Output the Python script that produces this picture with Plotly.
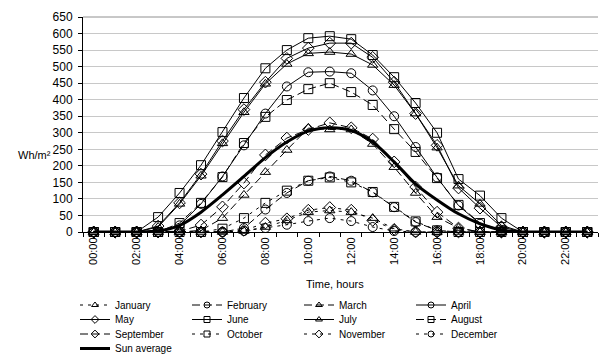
import plotly.graph_objects as go

hours = list(range(24))
tick_hours = list(range(0, 24, 2))
tick_labels = [f"{h:02d}:00" for h in tick_hours]

january = [0,0,0,0,0,0,0,3,15,35,60,65,60,42,10,0,0,0,0,0,0,0,0,0]
february = [0,0,0,0,0,0,0,12,68,118,155,168,155,120,75,30,5,0,0,0,0,0,0,0]
march = [0,0,0,0,0,5,42,112,181,248,314,310,310,266,196,118,45,12,0,0,0,0,0,0]
april = [0,0,0,0,20,85,168,262,358,440,483,485,480,428,350,257,165,80,25,3,0,0,0,0]
may = [0,0,0,18,88,175,275,370,453,525,556,571,571,528,453,358,262,133,72,15,0,0,0,0]
june = [0,0,0,45,118,202,302,405,495,550,586,592,583,535,468,390,300,160,110,42,0,0,0,0]
july = [0,0,0,15,85,170,268,362,448,508,540,544,538,505,444,358,255,140,85,20,0,0,0,0]
august = [0,0,0,0,27,88,166,269,348,399,432,450,423,384,311,242,163,82,27,5,0,0,0,0]
september = [0,0,0,0,2,21,76,148,233,284,310,330,315,281,212,136,60,12,0,0,0,0,0,0]
october = [0,0,0,0,0,0,10,42,88,125,155,165,150,121,76,32,5,0,0,0,0,0,0,0]
november = [0,0,0,0,0,0,0,5,27,40,66,74,66,35,8,0,0,0,0,0,0,0,0,0]
december = [0,0,0,0,0,0,0,3,12,22,33,42,33,15,3,0,0,0,0,0,0,0,0,0]
sun_average = [0,0,0,3,20,60,112,168,225,272,305,315,307,272,212,145,97,55,25,6,0,0,0,0]

SHORT = "3px,5px"
LONG = "8px,4px"

series = [
    ("January", january, "triangle-up-open", SHORT),
    ("February", february, "circle-open", LONG),
    ("March", march, "triangle-up-open", LONG),
    ("April", april, "circle-open", "solid"),
    ("May", may, "diamond-open", "solid"),
    ("June", june, "square-open", "solid"),
    ("July", july, "triangle-up-open", "solid"),
    ("August", august, "square-open", LONG),
    ("September", september, "diamond-open", LONG),
    ("October", october, "square-open", SHORT),
    ("November", november, "diamond-open", SHORT),
    ("December", december, "circle-open", SHORT),
]
legend_ids = ["legend", "legend2", "legend3", "legend4"]

fig = go.Figure()
for i, (name, vals, sym, dash) in enumerate(series):
    fig.add_trace(go.Scatter(
        x=hours, y=vals, name=name, mode="lines+markers", legendgroup=name, showlegend=False,
        line=dict(color="black", width=1, dash=dash),
        marker=dict(symbol=sym, size=9, color="black", line=dict(width=1, color="black")),
        cliponaxis=False,
    ))
fig.add_trace(go.Scatter(
    x=hours, y=sun_average, name="Sun average", mode="lines", legendgroup="Sun average",
    showlegend=False,
    line=dict(color="black", width=3, shape="spline", smoothing=0.8),
    cliponaxis=False,
))
# legend entries (smaller symbols, as in the reference legend)
for i, (name, vals, sym, dash) in enumerate(series):
    fig.add_trace(go.Scatter(
        x=[None], y=[None], name=name, mode="lines+markers", legendgroup=name,
        legend=legend_ids[i // 4],
        line=dict(color="black", width=1, dash=dash),
        marker=dict(symbol=sym, size=6, color="black", line=dict(width=1, color="black")),
    ))
fig.add_trace(go.Scatter(
    x=[None], y=[None], name="Sun average", mode="lines", legendgroup="Sun average",
    legend="legend4", line=dict(color="black", width=3),
))

font = "Liberation Sans, Arial, sans-serif"
row_y = [305, 319.5, 334, 348.5]
legends = {}
for k, lid in enumerate(legend_ids):
    legends[lid] = dict(
        orientation="h", xref="container", yref="container",
        x=75/599, y=1 - row_y[k]/363, xanchor="left", yanchor="middle",
        entrywidth=67, entrywidthmode="pixels",
        font=dict(size=10, family=font, color="black"), tracegroupgap=0,
        bgcolor="rgba(0,0,0,0)", borderwidth=0,
    )

fig.update_layout(
    width=599, height=363,
    margin=dict(l=83, r=1, t=17, b=131),
    paper_bgcolor="white", plot_bgcolor="white",
    font=dict(family=font, size=11, color="black"),
    showlegend=True,
    **legends,
    xaxis=dict(
        range=[-0.5, 23.5], tickmode="array", tickvals=tick_hours, ticktext=tick_labels,
        tickangle=-90, ticks="outside", ticklen=0, showgrid=False, zeroline=False,
        showline=True, linecolor="black", linewidth=1,
        tickfont=dict(size=11),
        minor=dict(tickvals=[h - 0.5 for h in range(25)], ticks="outside", ticklen=4,
                   tickcolor="black", showgrid=False),
    ),
    yaxis=dict(
        range=[0, 650], dtick=50, tick0=0, ticks="outside", ticklen=4, tickcolor="black",
        showline=True, linecolor="black", linewidth=1, showgrid=True,
        gridcolor="#c8c8c8", gridwidth=1, zeroline=False, tickfont=dict(size=12),
        ticklabelstandoff=3,
    ),
    shapes=[dict(type="line", xref="paper", yref="paper", x0=0, x1=1, y0=1, y1=1,
                 line=dict(color="#909090", width=1))],
    annotations=[
        dict(text="Wh/m²", xref="paper", yref="paper", x=(34-83)/515, y=(232-155)/215,
             xanchor="center", yanchor="middle", showarrow=False, font=dict(size=11)),
        dict(text="Time, hours", xref="paper", yref="paper", x=(335-83)/515, y=(232-284)/215,
             xanchor="center", yanchor="middle", showarrow=False, font=dict(size=11)),
    ],
)

fig.write_html("out.html")
